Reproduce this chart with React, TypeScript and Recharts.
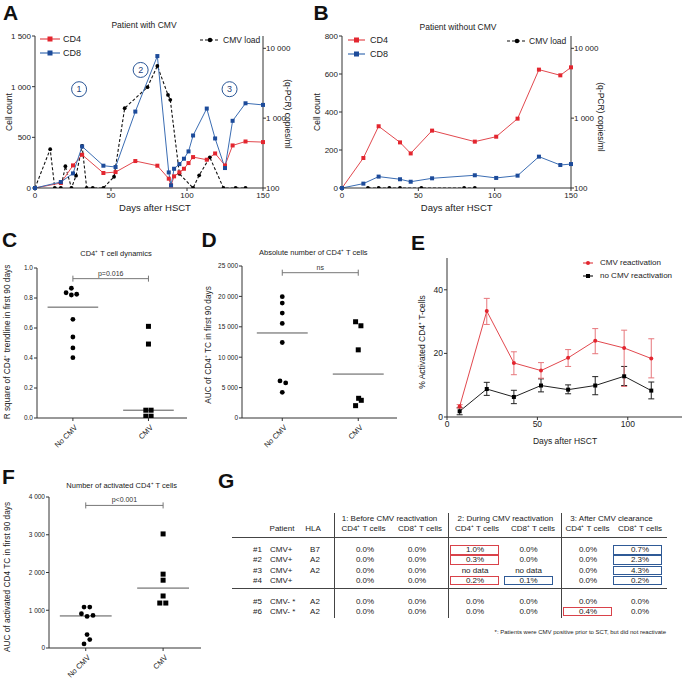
import React from 'react';
import {
  LineChart, Line, XAxis, YAxis, ReferenceDot, ReferenceLine,
  ScatterChart, Scatter, ErrorBar,
} from 'recharts';

const FONT = '"Liberation Sans", Arial, Helvetica, sans-serif';
const INK = '#222';
const AX = '#333';
const RED = '#e3262f';
const RED_LINE = '#e2484e';
const BLUE = '#1d4b9a';
const BLUE_LINE = '#3b6db3';

// ---------------- Panel A : patient with CMV
const aCellDays = [0, 17, 25, 31, 45, 53, 66, 80.5, 88, 89.5, 91.5, 95, 98, 101, 104, 113, 118.5, 125, 130, 138.5, 150];
const aCD4 = [0, 49, 223, 328, 148, 157, 266, 220, 92, 26, 115, 154, 190, 246, 305, 279, 341, 223, 420, 459, 453];
const aCD8 = [0, 59, 144, 410, 220, 207, 754, 1302, 154, 26, 190, 236, 289, 361, 518, 784, 489, 197, 663, 836, 820];
const aLoadDays = [0, 10, 13, 17, 20, 24, 27, 31, 34, 38, 45, 52, 59, 74, 80.5, 87.5, 89, 95, 104, 108, 115, 124, 132, 138.5];
const aLoad = [100, 360, 100, 100, 205, 100, 150, 400, 100, 100, 100, 145, 1390, 2780, 5600, 2150, 1830, 160, 100, 152, 275, 100, 100, 100];
const aPhaseDays = [29, 69.5, 128];
const aPhaseCounts = [975, 1165, 975];
const aPhaseLabels = ['1', '2', '3'];
const aCellTicks = [0, 500, 1000, 1500];

// ---------------- Panel B : patient without CMV
const bCellDays = [0, 14, 24, 38, 45, 59, 87, 101, 115, 129, 143, 150];
const bCD4 = [0, 158, 325, 240, 182, 302, 244, 270, 365, 623, 593, 635];
const bCD8 = [0, 23, 60, 46, 33, 51, 67, 53, 65, 165, 121, 126];
const bLoadDays = [17, 24, 31, 38, 52, 80, 87];
const bLoad = [100, 100, 100, 100, 100, 100, 100];
const bCellTicks = [0, 200, 400, 600, 800];

const dayTicks = [0, 50, 100, 150];
const loadTicks = [100, 1000, 10000];

// ---------------- Panel C : R square
const cNoCmv = [0.865, 0.835, 0.82, 0.825, 0.658, 0.54, 0.467, 0.402];
const cNoCmvX = [0.98, 0.91, 0.98, 1.05, 1, 1, 1, 1];
const cCmv = [0.611, 0.493, 0.052, 0.052, 0.012, 0.012];
const cCmvX = [2, 2, 1.965, 2.035, 1.965, 2.035];
const cTicks = [0, 0.2, 0.4, 0.6, 0.8, 1.0];

// ---------------- Panel D : AUC CD4
const dNoCmv = [19950, 18900, 17250, 15550, 12420, 6100, 5770, 4230];
const dNoCmvX = [1, 1, 1, 1, 1, 0.97, 1.045, 1];
const dCmv = [15830, 15170, 11210, 3240, 2910, 2030];
const dCmvX = [1.965, 2.035, 2, 2.005, 2.04, 1.965];
const dTicks = [0, 5000, 10000, 15000, 20000, 25000];

// ---------------- Panel F : AUC activated CD4
const fNoCmv = [1084, 1084, 907, 836, 862, 356, 222, 107];
const fNoCmvX = [0.978, 1.052, 0.944, 1.017, 1.094, 1.017, 1.052, 0.978];
const fCmv = [3022, 1956, 1796, 1378, 1191, 1191];
const fCmvX = [2, 2, 2, 2, 1.957, 2.035];
const fTicks = [0, 1000, 2000, 3000, 4000];

const groupNames = ['No CMV', 'CMV'];

// ---------------- Panel E : % activated CD4
const eDays = [7, 22, 37, 52, 67, 82, 98, 113];
const eCmvMean = [3.3, 33.3, 17.0, 14.6, 18.6, 24.0, 21.7, 18.4];
const eCmvHigh = [3.9, 37.3, 20.5, 17.1, 21.2, 27.8, 27.3, 24.6];
const eCmvLow = [2.8, 29.1, 13.3, 12.2, 15.9, 19.9, 9.6, 12.3];
const eNoMean = [1.8, 8.8, 6.3, 9.9, 8.6, 9.9, 12.8, 8.3];
const eNoHigh = [2.9, 10.9, 8.4, 12.0, 10.1, 12.7, 15.9, 11.0];
const eNoLow = [0.7, 6.8, 4.2, 7.9, 7.3, 7.0, 9.9, 5.7];
const eYTicks = [0, 20, 40];
const eXTicks = [0, 50, 100];

// ---------------- Panel G : table
const gGroups = ['1: Before CMV reactivation', '2: During CMV reactivation', '3: After CMV clearance'];
const gSubHeads = ['CD4⁺ T cells', 'CD8⁺ T cells', 'CD4⁺ T cells', 'CD8⁺ T cells', 'CD4⁺ T cells', 'CD8⁺ T cells'];
const gPatients = ['#1', '#2', '#3', '#4', '#5', '#6'];
const gStatus = ['CMV+', 'CMV+', 'CMV+', 'CMV+', 'CMV- *', 'CMV- *'];
const gHLA = ['B7', 'A2', 'A2', '', 'A2', 'A2'];
const gValues = [
  ['0.0%', '0.0%', '1.0%', '0.0%', '0.0%', '0.7%'],
  ['0.0%', '0.0%', '0.3%', '0.0%', '0.0%', '2.3%'],
  ['0.0%', '0.0%', 'no data', 'no data', '0.0%', '4.3%'],
  ['0.0%', '0.0%', '0.2%', '0.1%', '0.0%', '0.2%'],
  ['0.0%', '0.0%', '0.0%', '0.0%', '0.0%', '0.0%'],
  ['0.0%', '0.0%', '0.0%', '0.0%', '0.4%', '0.0%'],
];
const gBoxes = [
  ['', '', 'r', '', '', 'b'],
  ['', '', 'r', '', '', 'b'],
  ['', '', '', '', '', 'b'],
  ['', '', 'r', 'b', '', 'b'],
  ['', '', '', '', '', ''],
  ['', '', '', '', 'r', ''],
];
const gFootnote = '*: Patients were CMV positive prior to SCT, but did not reactivate';

// ---------------- helpers
const fmt = (v: number) => String(v).replace(/\B(?=(\d{3})+(?!\d))/g, '\u00a0');
const median = (a: number[]) => {
  const s = [...a].sort((x, y) => x - y);
  const n = s.length;
  return n % 2 ? s[(n - 1) / 2] : (s[n / 2 - 1] + s[n / 2]) / 2;
};
const zip = (xs: number[], ys: number[], kx: string, ky: string) =>
  xs.map((x, i) => ({ [kx]: x, [ky]: ys[i] }));

const squareDot = (color: string, s: number) => (p: any) =>
  <rect key={`sq${p.index}`} x={p.cx - s / 2} y={p.cy - s / 2} width={s} height={s} fill={color} />;
const circleDot = (color: string, r: number) => (p: any) =>
  <circle key={`ci${p.index}`} cx={p.cx} cy={p.cy} r={r} fill={color} />;

function Txt({ x, y, text, fs = 8, rot = 0, anchor = 'middle', weight = 400, color = INK }: any) {
  const tx = anchor === 'middle' ? '-50%' : anchor === 'end' ? '-100%' : '0';
  return (
    <div style={{
      position: 'absolute', left: x, top: y,
      transform: `translate(${tx},-50%)${rot ? ` rotate(${rot}deg)` : ''}`,
      fontSize: fs, lineHeight: 1, whiteSpace: 'nowrap', fontWeight: weight, color,
    }}>{text}</div>
  );
}

function Letter({ x, y, text }: any) {
  return (
    <div style={{ position: 'absolute', left: x, top: y, fontSize: 21, fontWeight: 700, lineHeight: 1, color: '#111' }}>{text}</div>
  );
}

function Swatch({ x, y, w, line, markColor, shape, dashed, text, gap = 3, fs = 8.5, ms = 5 }: any) {
  return (
    <div style={{ position: 'absolute', left: x, top: y - 6, height: 12, display: 'flex', alignItems: 'center', whiteSpace: 'nowrap' }}>
      <svg width={w} height={12} style={{ display: 'block' }}>
        <line x1={0} y1={6} x2={w} y2={6} stroke={line} strokeWidth={1.2} strokeDasharray={dashed ? '3 2' : undefined} />
        {shape === 'square'
          ? <rect x={w / 2 - ms / 2} y={6 - ms / 2} width={ms} height={ms} fill={markColor} />
          : <circle cx={w / 2} cy={6} r={ms / 2} fill={markColor} />}
      </svg>
      <span style={{ marginLeft: gap, fontSize: fs, color: INK, lineHeight: '12px' }}>{text}</span>
    </div>
  );
}

const tickStyle = (fs: number) => ({ fontSize: fs, fill: INK, fontFamily: FONT });

// ---------------- A/B panels
function CellPanel({ left, width, yW, mr, cellMax, cellTicks, days, cd4, cd8, loadDays, load, notes }: any) {
  const d4 = zip(days, cd4, 'day', 'v');
  const d8 = zip(days, cd8, 'day', 'v');
  const dl = zip(loadDays, load, 'day', 'v');
  return (
    <div style={{ position: 'absolute', left, top: 0 }}>
      <LineChart width={width} height={220} margin={{ top: 36, right: mr, bottom: 7, left: 0 }}>
        <XAxis type="number" dataKey="day" domain={[0, 150]} ticks={dayTicks} interval={0} height={25}
          tick={tickStyle(8)} tickSize={3} tickMargin={1} axisLine={{ stroke: AX }} tickLine={{ stroke: AX }} />
        <YAxis yAxisId="l" type="number" domain={[0, cellMax]} ticks={cellTicks} interval={0} width={yW}
          tickFormatter={fmt} tick={tickStyle(8)} tickSize={3} tickMargin={1} axisLine={{ stroke: AX }} tickLine={{ stroke: AX }} />
        <YAxis yAxisId="r" orientation="right" type="number" scale="log" domain={[100, 15000]} ticks={loadTicks}
          interval={0} width={40} allowDataOverflow tickFormatter={fmt} tick={tickStyle(8)} tickSize={3} tickMargin={0}
          axisLine={{ stroke: AX }} tickLine={{ stroke: AX }} />
        <Line yAxisId="r" data={dl} dataKey="v" stroke="#111" strokeWidth={1.1} strokeDasharray="3 2"
          dot={circleDot('#000', 1.9)} isAnimationActive={false} />
        <Line yAxisId="l" data={d4} dataKey="v" stroke={RED_LINE} strokeWidth={1} dot={squareDot(RED, 4)} isAnimationActive={false} />
        <Line yAxisId="l" data={d8} dataKey="v" stroke={BLUE_LINE} strokeWidth={1} dot={squareDot(BLUE, 4)} isAnimationActive={false} />
        {notes && notes.days.map((d: number, i: number) => (
          <ReferenceDot key={`n${i}`} yAxisId="l" x={d} y={notes.counts[i]} r={7.5} fill="#fff" stroke="#2b5797" strokeWidth={1}
            label={{ value: notes.labels[i], position: 'center', fontSize: 9, fill: '#1f3f7a', fontFamily: FONT }} />
        ))}
      </LineChart>
    </div>
  );
}

// ---------------- C/D/F dot plots
const catTick = (p: any) => {
  const x = p.x + 5;
  const y = p.y + 5;
  return (
    <text key={`t${p.index}`} x={x} y={y} transform={`rotate(-45 ${x} ${y})`} textAnchor="end"
      fontSize={7.5} fill={INK} fontFamily={FONT}>{groupNames[p.payload.value - 1]}</text>
  );
};

function DotPlot({ left, top, width, height, margin, yW, xH, xDomain, yDomain, yTicks, yFmt,
  no, noX, cmv, cmvX, bracketY, cap, pText }: any) {
  const noPts = zip(noX, no, 'x', 'y');
  const cmvPts = zip(cmvX, cmv, 'x', 'y');
  const mNo = median(no);
  const mC = median(cmv);
  const hw = 0.335;
  const br = '#777';
  return (
    <div style={{ position: 'absolute', left, top }}>
      <ScatterChart width={width} height={height} margin={margin}>
        <XAxis type="number" dataKey="x" domain={xDomain} ticks={[1, 2]} interval={0} height={xH} allowDataOverflow
          tick={catTick} tickSize={3} axisLine={{ stroke: AX }} tickLine={{ stroke: AX }} />
        <YAxis type="number" dataKey="y" domain={yDomain} ticks={yTicks} interval={0} width={yW} allowDataOverflow
          tickFormatter={yFmt} tick={tickStyle(6.5)} tickSize={3} tickMargin={1} axisLine={{ stroke: AX }} tickLine={{ stroke: AX }} />
        <ReferenceLine segment={[{ x: 1, y: bracketY }, { x: 2, y: bracketY }]} stroke={br} strokeWidth={1}
          label={{ value: pText, position: 'top', fontSize: 7, fill: '#333', fontFamily: FONT, offset: 3 }} />
        <ReferenceLine segment={[{ x: 1, y: bracketY - cap }, { x: 1, y: bracketY + cap }]} stroke={br} strokeWidth={1} />
        <ReferenceLine segment={[{ x: 2, y: bracketY - cap }, { x: 2, y: bracketY + cap }]} stroke={br} strokeWidth={1} />
        <ReferenceLine segment={[{ x: 1 - hw, y: mNo }, { x: 1 + hw, y: mNo }]} stroke="#555" strokeWidth={1} />
        <ReferenceLine segment={[{ x: 2 - hw, y: mC }, { x: 2 + hw, y: mC }]} stroke="#555" strokeWidth={1} />
        <Scatter data={noPts} dataKey="y" isAnimationActive={false}
          shape={(p: any) => <circle cx={p.cx} cy={p.cy} r={2.4} fill="#000" />} />
        <Scatter data={cmvPts} dataKey="y" isAnimationActive={false}
          shape={(p: any) => <rect x={p.cx - 2.5} y={p.cy - 2.5} width={5} height={5} fill="#000" />} />
      </ScatterChart>
    </div>
  );
}

// ---------------- E line chart
function PanelE() {
  const data = eDays.map((d, i) => ({
    day: d,
    cmv: eCmvMean[i],
    cmvErr: [eCmvMean[i] - eCmvLow[i], eCmvHigh[i] - eCmvMean[i]],
    no: eNoMean[i],
    noErr: [eNoMean[i] - eNoLow[i], eNoHigh[i] - eNoMean[i]],
  }));
  return (
    <div style={{ position: 'absolute', left: 420, top: 240 }}>
      <LineChart width={264} height={210} data={data} margin={{ top: 18, right: 2, bottom: 13, left: 0 }}>
        <XAxis type="number" dataKey="day" domain={[0, 130]} ticks={eXTicks} interval={0} height={20}
          tick={tickStyle(8.5)} tickSize={3} tickMargin={1} axisLine={{ stroke: AX }} tickLine={{ stroke: AX }} />
        <YAxis type="number" domain={[0, 50]} ticks={eYTicks} interval={0} width={27}
          tick={tickStyle(8.5)} tickSize={3} tickMargin={1} axisLine={{ stroke: AX }} tickLine={{ stroke: AX }} />
        <Line dataKey="no" stroke="#222" strokeWidth={1} dot={squareDot('#000', 4)} isAnimationActive={false}>
          <ErrorBar dataKey="noErr" width={3} stroke="#222" strokeWidth={1} direction="y" />
        </Line>
        <Line dataKey="cmv" stroke={RED_LINE} strokeWidth={1} dot={circleDot(RED, 2)} isAnimationActive={false}>
          <ErrorBar dataKey="cmvErr" width={3} stroke="#e7777c" strokeWidth={1} direction="y" />
        </Line>
      </LineChart>
    </div>
  );
}

// ---------------- G table
function PanelG() {
  const colX = [365, 417, 475, 528.5, 588, 640];
  const rowY = [550, 560, 570.5, 580.7, 601.7, 611.7];
  const groupX = [389.5, 505.3, 611.5];
  const subX = [363.5, 420, 477, 533, 587.5, 640];
  const boxX = [0, 0, 474.7, 528, 587.8, 637.8];
  const fs = 8;
  return (
    <>
      {gGroups.map((g, i) => <Txt key={`gg${i}`} x={groupX[i]} y={519.3} text={g} fs={fs} />)}
      <Txt x={282} y={529.3} text="Patient" fs={fs} />
      <Txt x={313} y={529.3} text="HLA" fs={fs} />
      {gSubHeads.map((g, i) => <Txt key={`gs${i}`} x={subX[i]} y={529.3} text={g} fs={fs} />)}
      <div style={{ position: 'absolute', left: 232, top: 536.5, width: 435, height: 1.6, background: '#444' }} />
      <div style={{ position: 'absolute', left: 232, top: 587.5, width: 435, height: 1.6, background: '#444' }} />
      {[334, 448.3, 561.7].map((x, i) => (
        <div key={`gv${i}`} style={{ position: 'absolute', left: x - 0.5, top: 513, width: 1.1, height: 105, background: '#444' }} />
      ))}
      {gPatients.map((p, r) => (
        <React.Fragment key={`gr${r}`}>
          <Txt x={257.5} y={rowY[r]} text={p} fs={fs} />
          <Txt x={270} y={rowY[r]} text={gStatus[r]} fs={fs} anchor="start" />
          <Txt x={315} y={rowY[r]} text={gHLA[r]} fs={fs} />
          {gValues[r].map((v, c) => (
            <React.Fragment key={`gc${r}-${c}`}>
              {gBoxes[r][c] && (
                <div style={{
                  position: 'absolute', left: boxX[c] - 24.5, top: rowY[r] - 4.8, width: 49, height: 9.6,
                  boxSizing: 'border-box', border: `1px solid ${gBoxes[r][c] === 'r' ? '#d9424a' : '#2f5a96'}`,
                }} />
              )}
              <Txt x={colX[c]} y={rowY[r]} text={v} fs={fs} />
            </React.Fragment>
          ))}
        </React.Fragment>
      ))}
      <Txt x={666} y={632} text={gFootnote} fs={6} anchor="end" />
    </>
  );
}

export default function App() {
  return (
    <div style={{
      position: 'absolute', left: 0, top: 0, width: 684, height: 680, overflow: 'hidden',
      background: '#fff', fontFamily: FONT, color: INK,
    }}>
      {/* Panel A */}
      <CellPanel left={0} width={330} yW={35} mr={27} cellMax={1500} cellTicks={aCellTicks}
        days={aCellDays} cd4={aCD4} cd8={aCD8} loadDays={aLoadDays} load={aLoad}
        notes={{ days: aPhaseDays, counts: aPhaseCounts, labels: aPhaseLabels }} />
      <Letter x={3} y={2} text="A" />
      <Txt x={144} y={25} text="Patient with CMV" fs={8.5} />
      <Txt x={8.5} y={112} text="Cell count" fs={8.5} rot={-90} />
      <Txt x={288} y={114} text="(q-PCR) copies/ml" fs={8.5} rot={90} />
      <Txt x={155} y={208.3} text="Days after HSCT" fs={9.5} />
      <Swatch x={40} y={39.3} w={20} line={RED_LINE} markColor={RED} shape="square" text="CD4" fs={9} />
      <Swatch x={40} y={53.3} w={20} line={BLUE_LINE} markColor={BLUE} shape="square" text="CD8" fs={9} />
      <Swatch x={200} y={39.7} w={20} line="#111" markColor="#000" shape="circle" dashed text="CMV load" fs={8.5} gap={3} ms={4.5} />

      {/* Panel B */}
      <CellPanel left={315} width={369} yW={27} mr={73} cellMax={800} cellTicks={bCellTicks}
        days={bCellDays} cd4={bCD4} cd8={bCD8} loadDays={bLoadDays} load={bLoad} />
      <Letter x={313.5} y={2} text="B" />
      <Txt x={458} y={26.5} text="Patient without CMV" fs={8.5} />
      <Txt x={317} y={112} text="Cell count" fs={8.5} rot={-90} />
      <Txt x={601} y={117} text="(q-PCR) copies/ml" fs={8.5} rot={90} />
      <Txt x={456.7} y={208.3} text="Days after HSCT" fs={9.5} />
      <Swatch x={348} y={40} w={17} line={RED_LINE} markColor={RED} shape="square" text="CD4" fs={9} gap={5} />
      <Swatch x={348} y={54.3} w={17} line={BLUE_LINE} markColor={BLUE} shape="square" text="CD8" fs={9} gap={5} />
      <Swatch x={507} y={41} w={20} line="#111" markColor="#000" shape="circle" dashed text="CMV load" fs={8.5} gap={2} ms={4.5} />

      {/* Panel C */}
      <DotPlot left={0} top={250} width={200} height={210} margin={{ top: 18, right: 13, bottom: 2, left: 0 }}
        yW={37} xH={40} xDomain={[0.525, 2.51]} yDomain={[0, 1]} yTicks={cTicks} yFmt={(v: number) => v.toFixed(1)}
        no={cNoCmv} noX={cNoCmvX} cmv={cCmv} cmvX={cCmvX} bracketY={0.929} cap={0.02} pText="p=0.016" />
      <Letter x={2} y={229} text="C" />
      <Txt x={116} y={254.3} text="CD4⁺ T cell dynamics" fs={7.5} />
      <Txt x={7} y={341.7} text="R square of CD4⁺ trendline in first 90 days" fs={8.3} rot={-90} />

      {/* Panel D */}
      <DotPlot left={200} top={250} width={200} height={210} margin={{ top: 16, right: 3, bottom: 2, left: 0 }}
        yW={42} xH={40} xDomain={[0.47, 2.51]} yDomain={[0, 25000]} yTicks={dTicks} yFmt={fmt}
        no={dNoCmv} noX={dNoCmvX} cmv={dCmv} cmvX={dCmvX} bracketY={23900} cap={500} pText="ns" />
      <Letter x={201.5} y={229} text="D" />
      <Txt x={313.3} y={253} text="Absolute number of CD4⁺ T cells" fs={7.5} />
      <Txt x={208.3} y={345} text="AUC of CD4⁺ TC in first 90 days" fs={8.3} rot={-90} />

      {/* Panel E */}
      <PanelE />
      <Letter x={411} y={232} text="E" />
      <Txt x={421.7} y={342} text="% Activated CD4⁺ T-cells" fs={8.5} rot={-90} />
      <Txt x={565} y={441} text="Days after HSCT" fs={8.5} />
      <Swatch x={583} y={263.3} w={10} line={RED_LINE} markColor={RED} shape="circle" text="CMV reactivation" fs={8} gap={7} ms={4} />
      <Swatch x={583} y={276} w={10} line="#222" markColor="#000" shape="square" text="no CMV reactivation" fs={8} gap={7} ms={4} />

      {/* Panel F */}
      <DotPlot left={0} top={480} width={210} height={200} margin={{ top: 17, right: 9, bottom: 2, left: 0 }}
        yW={49} xH={30} xDomain={[0.525, 2.49]} yDomain={[0, 4000]} yTicks={fTicks} yFmt={fmt}
        no={fNoCmv} noX={fNoCmvX} cmv={fCmv} cmvX={fCmvX} bracketY={3777} cap={80} pText="p<0.001" />
      <Letter x={2} y={466} text="F" />
      <Txt x={121.7} y={486} text="Number of activated CD4⁺ T cells" fs={7.5} />
      <Txt x={7} y={576.7} text="AUC of activated CD4 TC in first 90 days" fs={8.3} rot={-90} />

      {/* Panel G */}
      <Letter x={218} y={470} text="G" />
      <PanelG />
    </div>
  );
}
